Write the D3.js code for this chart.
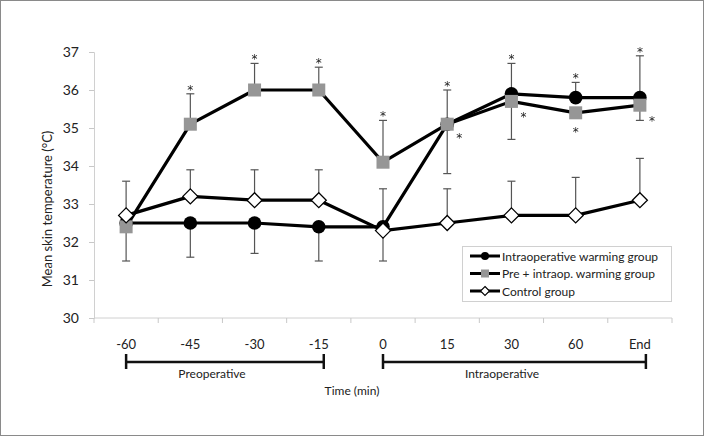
<!DOCTYPE html>
<html>
<head>
<meta charset="utf-8">
<script src="https://cdn.jsdelivr.net/npm/d3@7"></script>
<style>
  html, body { margin: 0; padding: 0; background: #fff; }
  svg { display: block; }
  text { font-family: "Lato", "DejaVu Sans", sans-serif; fill: #222; }
  .stars { filter: grayscale(1); }
</style>
</head>
<body>
<script>
// ---------- data ----------
const categories = ["-60", "-45", "-30", "-15", "0", "15", "30", "60", "End"];
const yTicks = [30, 31, 32, 33, 34, 35, 36, 37];

const intraop   = [32.5, 32.5, 32.5, 32.4, 32.4, 35.1, 35.9, 35.8, 35.8];
const intraopUp = [null, null, null, null, null, null, 0.8, 0.4, 1.1];
const intraopDn = [1.0, 0.9, 0.8, 0.9, 0.9, null, null, null, null];

const preIntra   = [32.4, 35.1, 36.0, 36.0, 34.1, 35.1, 35.7, 35.4, 35.6];
const preIntraUp = [null, 0.8, 0.7, 0.6, 1.1, 0.9, null, null, null];
const preIntraDn = [null, null, null, null, null, 1.3, 1.0, null, 0.4];

const control   = [32.7, 33.2, 33.1, 33.1, 32.3, 32.5, 32.7, 32.7, 33.1];
const controlUp = [0.9, 0.7, 0.8, 0.8, 1.1, 0.9, 0.9, 1.0, 1.1];
const controlDn = [null, null, null, null, null, null, null, null, null];

// significance stars: category, value level, side
const starsAbove  = ["-45", "-30", "-15", "0", "15", "30", "60", "End"];
const starsAboveAt = [35.9, 36.7, 36.6, 35.2, 36.0, 36.7, 36.2, 36.9];
const starsPre     = ["15", "30", "60", "End"];
const starsPreAt   = [34.85, 35.4, 35.0, 35.3];
const starsPreDx   = [12, 12, 0, 12];

const seriesNames = ["Intraoperative warming group", "Pre + intraop. warming group", "Control group"];

// ---------- layout ----------
const W = 704, H = 436;
const svg = d3.select("body").append("svg").attr("width", W).attr("height", H);

svg.append("rect").attr("x", 0.5).attr("y", 0.5).attr("width", W - 1).attr("height", H - 1)
  .attr("fill", "#fff").attr("stroke", "#8a8a8a").attr("stroke-width", 1);

const x = d3.scaleBand().domain(categories).range([94, 672]).padding(0);
const cx = c => x(c) + x.bandwidth() / 2;
const y = d3.scaleLinear().domain([30, 37]).range([318, 52]);

// y axis
const yAxis = svg.append("g").attr("transform", "translate(94,0)")
  .call(d3.axisLeft(y).tickValues(yTicks).tickSize(5).tickPadding(10).tickFormat(d3.format("d")));
yAxis.select(".domain").attr("stroke", "#d0d0d0");
yAxis.selectAll(".tick line").attr("stroke", "#c8c8c8");
yAxis.selectAll(".tick text").style("font-size", "14px").attr("fill", "#333")
  .style("font-family", "Lato, 'DejaVu Sans', sans-serif");

// x axis (ticks at band boundaries)
const gx = svg.append("g");
gx.append("line").attr("x1", x.range()[0]).attr("x2", x.range()[1])
  .attr("y1", y(30)).attr("y2", y(30)).attr("stroke", "#d0d0d0");
const bounds = categories.map(c => x(c)).concat([x.range()[1]]);
gx.selectAll("line.tk").data(bounds).join("line").attr("class", "tk")
  .attr("x1", d => d).attr("x2", d => d).attr("y1", y(30)).attr("y2", y(30) + 5)
  .attr("stroke", "#c8c8c8");
gx.selectAll("text").data(categories).join("text")
  .attr("x", d => cx(d)).attr("y", 349).attr("text-anchor", "middle")
  .style("font-size", "13px").attr("fill", "#333").text(d => d);

// y title
svg.append("text").attr("transform", "translate(52,209) rotate(-90)")
  .attr("text-anchor", "middle").style("font-size", "13px").text("Mean skin temperature (°C)");

// brackets
const brackets = [
  { from: "-60", to: "-15", label: "Preoperative", dxEnd: 5 },
  { from: "0", to: "End", label: "Intraoperative", dxEnd: 6 }
];
const bY = 362;
brackets.forEach(b => {
  const x1 = cx(b.from), x2 = cx(b.to) + b.dxEnd;
  const g = svg.append("g").attr("stroke", "#111").attr("stroke-width", 2.5);
  g.append("line").attr("x1", x1).attr("x2", x2).attr("y1", bY).attr("y2", bY);
  g.append("line").attr("x1", x1).attr("x2", x1).attr("y1", bY - 8).attr("y2", bY + 7);
  g.append("line").attr("x1", x2).attr("x2", x2).attr("y1", bY - 8).attr("y2", bY + 7);
});
svg.append("text").attr("x", 212).attr("y", 378).attr("text-anchor", "middle")
  .style("font-size", "12px").text("Preoperative");
svg.append("text").attr("x", 502).attr("y", 378).attr("text-anchor", "middle")
  .style("font-size", "12px").text("Intraoperative");
svg.append("text").attr("x", 352).attr("y", 395).attr("text-anchor", "middle")
  .style("font-size", "12px").text("Time (min)");

// ---------- error bars ----------
const errColor = "#555";
function errorBars(vals, up, dn, color) {
  const g = svg.append("g").attr("stroke", color).attr("stroke-width", 1.2);
  categories.forEach((c, i) => {
    const xc = cx(c);
    [[up[i], 1], [dn[i], -1]].forEach(([e, s]) => {
      if (e == null) return;
      const yEnd = y(vals[i] + s * e);
      g.append("line").attr("x1", xc).attr("x2", xc).attr("y1", y(vals[i])).attr("y2", yEnd);
      g.append("line").attr("x1", xc - 4).attr("x2", xc + 4).attr("y1", yEnd).attr("y2", yEnd);
    });
  });
}
errorBars(control, controlUp, controlDn, errColor);
errorBars(intraop, intraopUp, intraopDn, errColor);
errorBars(preIntra, preIntraUp, preIntraDn, errColor);

// ---------- lines & markers ----------
const line = d3.line().x((d, i) => cx(categories[i])).y(d => y(d));
function drawLine(vals) {
  svg.append("path").datum(vals).attr("d", line).attr("fill", "none")
    .attr("stroke", "#000").attr("stroke-width", 3.2).attr("stroke-linejoin", "round");
}
function diamondPath(r) { return `M0,${-r}L${r},0L0,${r}L${-r},0Z`; }

drawLine(intraop);
svg.append("g").selectAll("circle").data(intraop).join("circle")
  .attr("cx", (d, i) => cx(categories[i])).attr("cy", d => y(d)).attr("r", 6.8).attr("fill", "#000");

drawLine(preIntra);
svg.append("g").selectAll("rect").data(preIntra).join("rect")
  .attr("x", (d, i) => cx(categories[i]) - 6.5).attr("y", d => y(d) - 6.5)
  .attr("width", 13).attr("height", 13).attr("fill", "#969696");

drawLine(control);
svg.append("g").selectAll("path").data(control).join("path")
  .attr("transform", (d, i) => `translate(${cx(categories[i])},${y(d)})`)
  .attr("d", diamondPath(7.5)).attr("fill", "#fff").attr("stroke", "#000").attr("stroke-width", 1.3);

// ---------- stars ----------
const starG = svg.append("g").attr("class", "stars");
starG.selectAll("text.sa").data(starsAbove).join("text").attr("class", "sa")
  .attr("x", d => cx(d)).attr("y", (d, i) => y(starsAboveAt[i]))
  .attr("text-anchor", "middle").style("font-size", "12px").attr("fill", "#111")
  .style("font-family", "'DejaVu Sans', sans-serif").text("*");
starG.selectAll("text.sp").data(starsPre).join("text").attr("class", "sp")
  .attr("x", (d, i) => cx(d) + starsPreDx[i]).attr("y", (d, i) => y(starsPreAt[i]) + 8)
  .attr("text-anchor", "middle").style("font-size", "12px").attr("fill", "#111")
  .style("font-family", "'DejaVu Sans', sans-serif").text("*");

// ---------- legend ----------
const lg = svg.append("g");
lg.append("rect").attr("x", 462.5).attr("y", 246.5).attr("width", 209).attr("height", 55)
  .attr("fill", "#fff").attr("stroke", "#d0d0d0");
const rows = [256, 273.5, 291];
seriesNames.forEach((name, i) => {
  const ry = rows[i];
  lg.append("line").attr("x1", 470).attr("x2", 500).attr("y1", ry).attr("y2", ry)
    .attr("stroke", "#000").attr("stroke-width", 3);
  if (i === 0) lg.append("circle").attr("cx", 485).attr("cy", ry).attr("r", 4).attr("fill", "#000");
  if (i === 1) lg.append("rect").attr("x", 481).attr("y", ry - 4).attr("width", 8).attr("height", 8).attr("fill", "#969696");
  if (i === 2) lg.append("path").attr("transform", `translate(485,${ry})`).attr("d", diamondPath(4.5))
    .attr("fill", "#fff").attr("stroke", "#000").attr("stroke-width", 1.1);
  lg.append("text").attr("x", 502).attr("y", ry + 4.5).style("font-size", "12px").text(name);
});
</script>
</body>
</html>
